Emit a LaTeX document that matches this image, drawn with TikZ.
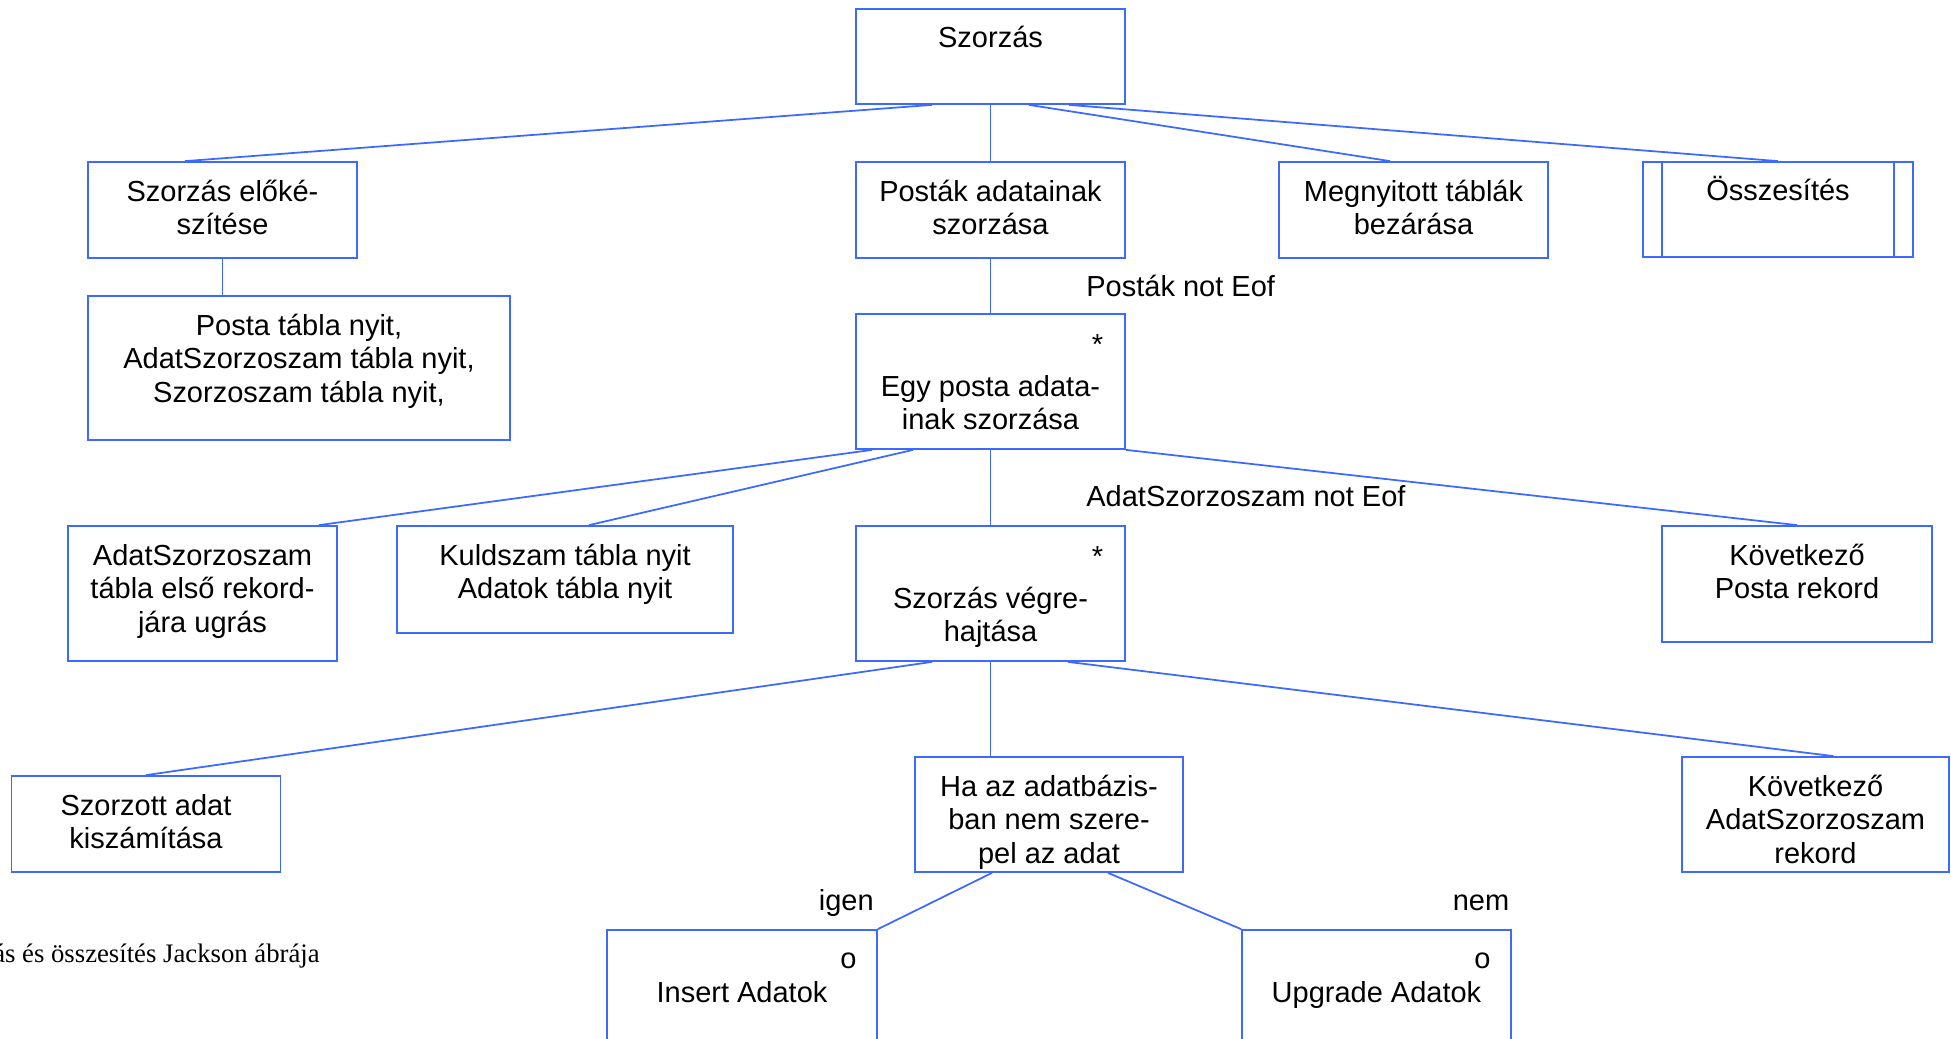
\documentclass[tikz,border=0pt]{standalone}
\usepackage{fontspec}
\setmainfont{Liberation Sans}
\newfontfamily\capfont{Liberation Serif}
\usetikzlibrary{positioning}
\definecolor{jblue}{RGB}{60,105,255}

\begin{document}
\begin{tikzpicture}[
    box/.style={draw=jblue, line width=1pt, minimum width=5.38cm, inner sep=0pt},
    txt/.style={font=\fontsize{16.5}{19}\selectfont, align=center, inner sep=0pt,
                execute at begin node={\rule{0pt}{15pt}}},
    cond/.style={font=\fontsize{16.5}{19}\selectfont, inner sep=0pt},
    conn/.style={draw=jblue, line width=1pt}]
    \useasboundingbox (0,0) rectangle (39.02,-20.78);
    \clip (0,0) rectangle (39.02,-20.78);

    % boxes
    \node[box, minimum height=1.90cm] (szorzas) at (19.81,-1.13) {};
    \node[box, minimum height=1.92cm] (elokesz) at (4.45,-4.20) {};
    \node[box, minimum height=1.92cm] (postak) at (19.81,-4.20) {};
    \node[box, minimum height=1.92cm] (megnyit) at (28.27,-4.20) {};
    \node[box, minimum height=1.90cm, minimum width=5.40cm] (osszes) at (35.56,-4.19) {};
    \node[box, minimum height=2.88cm, minimum width=8.44cm] (postanyit) at (5.98,-7.36) {};
    \node[box, minimum height=2.70cm] (egyposta) at (19.81,-7.63) {};
    \node[box, minimum height=2.70cm] (adatsz) at (4.05,-11.87) {};
    \node[box, minimum height=2.14cm, minimum width=6.72cm] (kuld) at (11.30,-11.59) {};
    \node[box, minimum height=2.70cm] (vegre) at (19.81,-11.87) {};
    \node[box, minimum height=2.32cm, minimum width=5.40cm] (kovposta) at (35.94,-11.68) {};
    \node[box, minimum height=1.92cm] (szorzott) at (2.92,-16.48) {};
    \node[box, minimum height=2.30cm, minimum width=5.36cm] (ha) at (20.98,-16.29) {};
    \node[box, minimum height=2.30cm, minimum width=5.34cm] (kovadat) at (36.31,-16.29) {};
    \node[box, minimum height=2.60cm, minimum width=5.40cm] (ins) at (14.84,-19.90) {};
    \node[box, minimum height=2.60cm] (upg) at (27.53,-19.90) {};

    \draw[conn] ([xshift=0.4cm]osszes.north west) -- ([xshift=0.4cm]osszes.south west);
    \draw[conn] ([xshift=-0.4cm]osszes.north east) -- ([xshift=-0.4cm]osszes.south east);

    % texts
    \node[txt, below=0.25cm of szorzas.north] (szorzasT) {Szorzás};
    \node[txt, below=0.375cm of elokesz.north] (elokeszT) {Szorzás előké-\\szítése};
    \node[txt, below=0.375cm of postak.north] (postakT) {Posták adatainak\\szorzása};
    \node[txt, below=0.375cm of megnyit.north] (megnyitT) {Megnyitott táblák\\bezárása};
    \node[txt, below=0.25cm of osszes.north] (osszesT) {Összesítés};
    \node[txt, below=0.375cm of postanyit.north] (postanyitT) {Posta tábla nyit,\\AdatSzorzoszam tábla nyit,\\Szorzoszam tábla nyit,};
    \node[txt, below left=0.29cm and 0.45cm of egyposta.north east] (egypostaM) {*};
    \node[txt, below=1.235cm of egyposta.north] (egypostaT) {Egy posta adata-\\inak szorzása};
    \node[txt, below=0.375cm of adatsz.north] (adatszT) {AdatSzorzoszam\\tábla első rekord-\\jára ugrás};
    \node[txt, below=0.375cm of kuld.north] (kuldT) {Kuldszam tábla nyit\\Adatok tábla nyit};
    \node[txt, below left=0.29cm and 0.45cm of vegre.north east] (vegreM) {*};
    \node[txt, below=1.235cm of vegre.north] (vegreT) {Szorzás végre-\\hajtása};
    \node[txt, below=0.375cm of kovposta.north] (kovpostaT) {Következő\\Posta rekord};
    \node[txt, below=0.375cm of szorzott.north] (szorzottT) {Szorzott adat\\kiszámítása};
    \begin{scope}
        \clip (ha.north west) rectangle (ha.south east);
        \node[txt, below=0.375cm of ha.north] (haT) {Ha az adatbázis-\\ban nem szere-\\pel az adat};
    \end{scope}
    \node[txt, below=0.375cm of kovadat.north] (kovadatT) {Következő\\AdatSzorzoszam\\rekord};
    \node[txt, below left=0.25cm and 0.42cm of ins.north east] (insM) {o};
    \node[txt, below=0.925cm of ins.north] (insT) {Insert Adatok};
    \node[txt, below left=0.25cm and 0.42cm of upg.north east] (upgM) {o};
    \node[txt, below=0.925cm of upg.north] (upgT) {Upgrade Adatok};

    % connectors
    \draw[conn] ([xshift=-1.17cm]szorzas.south) -- ([xshift=-0.75cm]elokesz.north);
    \draw[conn] (szorzas.south) -- (postak.north);
    \draw[conn] ([xshift=0.77cm]szorzas.south) -- ([xshift=-0.47cm]megnyit.north);
    \draw[conn] ([xshift=1.57cm]szorzas.south) -- (osszes.north);
    \draw[conn] (elokesz.south) -- (elokesz.south |- postanyit.north);
    \draw[conn] (postak.south) -- node[cond, right=1.9cm] (postakC) {Posták not Eof} (egyposta.north);
    \draw[conn] ([xshift=-2.37cm]egyposta.south) -- ([xshift=2.33cm]adatsz.north);
    \draw[conn] ([xshift=-1.55cm]egyposta.south) -- ([xshift=0.48cm]kuld.north);
    \draw[conn] (egyposta.south) -- node[cond, right=1.9cm, yshift=-0.18cm] (adatszC) {AdatSzorzoszam not Eof} (vegre.north);
    \draw[conn] (egyposta.south east) -- (kovposta.north);
    \draw[conn] ([xshift=-1.17cm]vegre.south) -- (szorzott.north);
    \draw[conn] (vegre.south) -- (vegre.south |- ha.north);
    \draw[conn] ([xshift=1.55cm]vegre.south) -- ([xshift=0.36cm]kovadat.north);
    \draw[conn] ([xshift=-1.14cm]ha.south) -- (ins.north east);
    \draw[conn] ([xshift=1.18cm]ha.south) -- (upg.north west);
    \node[cond, anchor=east] (igen) at (17.48,-18.06) {igen};
    \node[cond] (nem) at (29.62,-18.06) {nem};

    % caption
    \node[inner sep=0pt, anchor=base east, font=\capfont\fontsize{15.2}{18}\selectfont] (cap) at (6.40,-19.24) {ás és összesítés Jackson ábrája};
\end{tikzpicture}
\end{document}
